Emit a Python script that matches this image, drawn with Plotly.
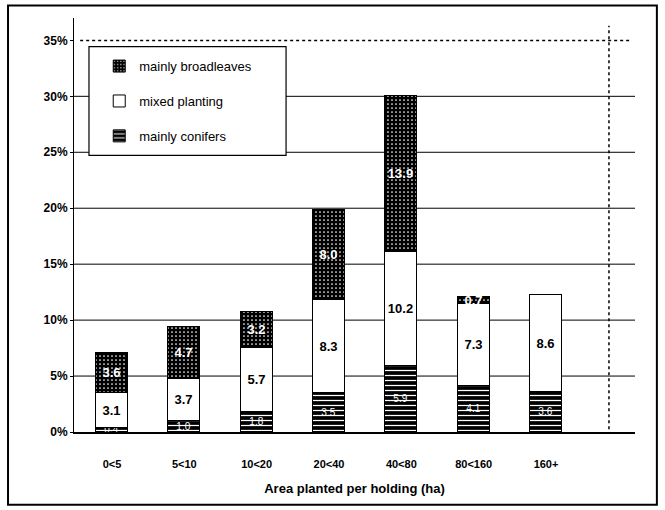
import plotly.graph_objects as go

categories = ["0<5", "5<10", "10<20", "20<40", "40<80", "80<160", "160+"]
conifers = [0.4, 1.0, 1.8, 3.5, 5.9, 4.1, 3.6]
mixed = [3.1, 3.7, 5.7, 8.3, 10.2, 7.3, 8.6]
broadleaves = [3.6, 4.7, 3.2, 8.0, 13.9, 0.7, None]
y_ticks = [0, 5, 10, 15, 20, 25, 30, 35]
y_labels = ["0%", "5%", "10%", "15%", "20%", "25%", "30%", "35%"]
grid_vals = [5, 10, 15, 20, 25, 30]
x_title = "Area planted per holding (ha)"

FONT = "Liberation Sans"


def labels(vals):
    return ["" if v is None else f"{v:.1f}" for v in vals]


fig = go.Figure()

common = dict(width=0.44, textposition="inside", insidetextanchor="middle",
              textangle=0, constraintext="none", cliponaxis=False)

fig.add_trace(go.Bar(
    x=categories, y=conifers, name="mainly conifers", text=labels(conifers),
    marker=dict(color="black", line=dict(color="black", width=1),
                pattern=dict(shape="-", fgcolor="white", bgcolor="black",
                             size=5, solidity=0.25, fillmode="replace")),
    textfont=dict(family=FONT, size=10, color="white"),
    legendgroup="c", legendrank=3, **common))

fig.add_trace(go.Bar(
    x=categories, y=mixed, name="mixed planting", text=labels(mixed),
    marker=dict(color="white", line=dict(color="black", width=1)),
    textfont=dict(family=FONT, size=13, color="black", weight="bold"),
    legendgroup="m", legendrank=2, **common))

fig.add_trace(go.Bar(
    x=categories, y=broadleaves, name="mainly broadleaves", text=labels(broadleaves),
    marker=dict(color="black", line=dict(color="black", width=1),
                pattern=dict(shape=".", fgcolor="white", bgcolor="black",
                             size=4, solidity=0.15, fillmode="replace")),
    textfont=dict(family=FONT, size=13, color="white", weight="bold"),
    legendgroup="b", legendrank=1, **common))

shapes = []
for g in grid_vals:
    shapes.append(dict(type="line", xref="paper", yref="y", x0=0, x1=1, y0=g, y1=g,
                       line=dict(color="black", width=1), layer="below"))
# dotted 35% reference line
shapes.append(dict(type="line", xref="x", yref="y", x0=-0.44, x1=7.19, y0=35, y1=35,
                   line=dict(color="black", width=1.5, dash="dot"), layer="above"))
# dotted vertical line
shapes.append(dict(type="line", xref="x", yref="y", x0=6.87, x1=6.87, y0=-0.3, y1=36.3,
                   line=dict(color="black", width=1.5, dash="dot"), layer="above"))
# legend box
shapes.append(dict(type="rect", xref="paper", yref="paper",
                   x0=0.0267, x1=0.378, y0=0.668, y1=0.931,
                   line=dict(color="black", width=1.2), fillcolor="white", layer="above"))
# outer frame
shapes.append(dict(type="rect", xref="paper", yref="paper",
                   x0=-0.1176, x1=1.039, y0=-0.176, y1=1.030,
                   line=dict(color="black", width=2), fillcolor="rgba(0,0,0,0)"))

fig.update_layout(
    width=665, height=510,
    margin=dict(l=74, r=30, t=18, b=78),
    paper_bgcolor="white", plot_bgcolor="white",
    barmode="stack", bargap=0,
    font=dict(family=FONT, size=12, color="black"),
    showlegend=True,
    legend=dict(x=0.045, xanchor="left", y=0.92, yanchor="top",
                bgcolor="rgba(0,0,0,0)", borderwidth=0,
                traceorder="grouped", tracegroupgap=15,
                font=dict(family=FONT, size=13, color="black"),
                itemwidth=30),
    xaxis=dict(type="category", range=[-0.525, 7.23], showline=True, linecolor="black",
               linewidth=1.5, ticks="", showgrid=False, zeroline=False,
               ticklabelstandoff=21,
               tickfont=dict(family=FONT, size=11, color="black", weight="bold"),
               title=dict(text=x_title, standoff=15,
                          font=dict(family=FONT, size=13, color="black", weight="bold"))),
    yaxis=dict(range=[0, 37], tickvals=y_ticks, ticktext=y_labels, showline=True,
               linecolor="black", linewidth=1, showgrid=False, zeroline=False,
               ticks="outside", ticklen=3, tickcolor="black",
               tickfont=dict(family=FONT, size=12, color="black", weight="bold")),
    shapes=shapes,
)

fig.write_html("out.html", config={"displayModeBar": False},
               post_script="document.body.style.margin='0';document.body.style.overflow='hidden';")
